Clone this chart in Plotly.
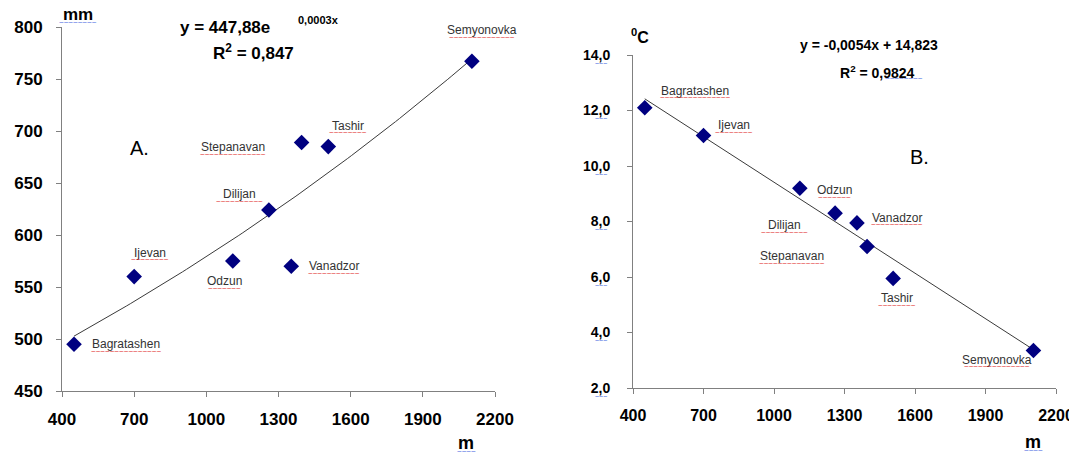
import numpy as np
import plotly.graph_objects as go

stations = ["Bagratashen", "Ijevan", "Odzun", "Dilijan", "Vanadzor", "Stepanavan", "Tashir", "Semyonovka"]
altitude = [450, 700, 1110, 1260, 1353, 1396, 1507, 2104]
precip = [495, 560, 575, 624, 570, 689, 685, 767]
temp = [12.1, 11.1, 9.2, 8.3, 7.95, 7.1, 5.95, 3.35]
x_ticks = [400, 700, 1000, 1300, 1600, 1900, 2200]
yA_ticks = [450, 500, 550, 600, 650, 700, 750, 800]
yB_ticks = [2, 4, 6, 8, 10, 12, 14]
yB_labels = ["2,0", "4,0", "6,0", "8,0", "10,0", "12,0", "14,0"]

# label offsets in pixels (x right, y up)
offA = {"Bagratashen": (52, 0), "Ijevan": (16, 24), "Odzun": (-8, -20), "Vanadzor": (43, 0),
        "Dilijan": (-29, 16), "Stepanavan": (-69, -5), "Tashir": (20, 21), "Semyonovka": (10, 31)}
offB = {"Bagratashen": (50, 17), "Ijevan": (30, 10), "Odzun": (35, -2), "Dilijan": (-51, -12),
        "Vanadzor": (40, 5), "Stepanavan": (-75, -10), "Tashir": (4, -20), "Semyonovka": (-36, -9)}

FONT = "Liberation Sans, Arial, sans-serif"
RED = "#e02020"
BLUE = "#4060e0"

# page body has an 8px margin; draw the figure in the remaining area
PAD = 8
W, H = 1077 - PAD, 457 - PAD


def fx(px):
    return (px - PAD) / W


def fy(py):
    return 1 - (py - PAD) / H


def squiggle(n):
    return "~" * n


x = np.array(altitude, dtype=float)
b, lna = np.polyfit(x, np.log(precip), 1)
xs = np.linspace(x.min(), x.max(), 100)
fitA = np.exp(lna) * np.exp(b * xs)
m, c = np.polyfit(x, temp, 1)
fitB = m * xs + c

fig = go.Figure()
fig.add_trace(go.Scatter(x=xs, y=fitA, mode="lines", line=dict(color="#3a3a3a", width=1),
                         xaxis="x", yaxis="y", showlegend=False, hoverinfo="skip"))
fig.add_trace(go.Scatter(x=altitude, y=precip, mode="markers", text=stations,
                         marker=dict(symbol="diamond", size=12, color="#000080"),
                         xaxis="x", yaxis="y", showlegend=False))
fig.add_trace(go.Scatter(x=xs, y=fitB, mode="lines", line=dict(color="#3a3a3a", width=1),
                         xaxis="x2", yaxis="y2", showlegend=False, hoverinfo="skip"))
fig.add_trace(go.Scatter(x=altitude, y=temp, mode="markers", text=stations,
                         marker=dict(symbol="diamond", size=12, color="#000080"),
                         xaxis="x2", yaxis="y2", showlegend=False))

ann = []
for xr, yr, vals, offs in (("x", "y", precip, offA), ("x2", "y2", temp, offB)):
    for s, xv, yv in zip(stations, altitude, vals):
        dx, dy = offs[s]
        ann.append(dict(x=xv, y=yv, xref=xr, yref=yr, showarrow=False, xshift=dx, yshift=dy,
                        xanchor="center", yanchor="middle",
                        text=s, font=dict(family=FONT, size=12, color="#333333")))
        ann.append(dict(x=xv, y=yv, xref=xr, yref=yr, showarrow=False, xshift=dx, yshift=dy - 7,
                        xanchor="center", yanchor="middle",
                        text=squiggle(int(len(s) * 1.45)), font=dict(family=FONT, size=8, color=RED)))


def paper(px, py):
    return dict(x=fx(px), y=fy(py), xref="paper", yref="paper", showarrow=False,
                xanchor="center", yanchor="middle")


ann += [
    dict(**paper(225, 28), text="<b>y = 447,88e</b>", font=dict(family=FONT, size=17, color="black")),
    dict(**paper(318, 20), text="<b>0,0003x</b>", font=dict(family=FONT, size=11, color="black")),
    dict(**paper(253, 52), text="<b>R<sup>2</sup> = 0,847</b>", font=dict(family=FONT, size=17, color="black")),
    dict(**paper(869, 45), text="<b>y = -0,0054x + 14,823</b>", font=dict(family=FONT, size=14, color="black")),
    dict(**paper(877, 72), text="<b>R<sup>2</sup> = 0,9824</b>", font=dict(family=FONT, size=14, color="black")),
    dict(**paper(904, 79), text=squiggle(8), font=dict(family=FONT, size=8, color=BLUE)),
    dict(**paper(139, 148), text="A.", font=dict(family=FONT, size=20, color="black")),
    dict(**paper(919, 157), text="B.", font=dict(family=FONT, size=20, color="black")),
    dict(**paper(78, 15), text="<b>mm</b>", font=dict(family=FONT, size=17, color="black")),
    dict(**paper(78, 23), text=squiggle(8), font=dict(family=FONT, size=8, color=BLUE)),
    dict(**paper(466, 443), text="<b>m</b>", font=dict(family=FONT, size=18, color="black")),
    dict(**paper(466, 451), text=squiggle(4), font=dict(family=FONT, size=8, color=BLUE)),
    dict(**paper(640, 36), text="<b><sup>0</sup>C</b>", font=dict(family=FONT, size=16, color="black")),
    dict(**paper(1033, 442), text="<b>m</b>", font=dict(family=FONT, size=18, color="black")),
    dict(**paper(1033, 450), text=squiggle(4), font=dict(family=FONT, size=8, color=BLUE)),
]
for tv in yB_ticks:
    ann.append(dict(x=fx(601), y=tv, xref="paper", yref="y2", showarrow=False, yshift=-8,
                    xanchor="center", yanchor="middle",
                    text=squiggle(3), font=dict(family=FONT, size=7, color=BLUE)))

axis_common = dict(showgrid=False, zeroline=False, showline=True, linecolor="#808080", linewidth=1,
                   ticks="outside", ticklen=5, tickcolor="#808080", mirror=False, automargin=False)

fig.update_layout(
    width=W, height=H, margin=dict(l=0, r=0, t=0, b=0, autoexpand=False),
    paper_bgcolor="white", plot_bgcolor="white",
    xaxis=dict(domain=[fx(62), fx(495)], range=[400, 2200], tickvals=x_ticks, ticklabelstandoff=8,
               tickfont=dict(family=FONT, size=17, color="black", weight="bold"), anchor="y", **axis_common),
    yaxis=dict(domain=[fy(391), fy(27)], range=[450, 800], tickvals=yA_ticks, ticklabelstandoff=10,
               tickfont=dict(family=FONT, size=17, color="black", weight="bold"), anchor="x", **axis_common),
    xaxis2=dict(domain=[fx(633), fx(1056)], range=[400, 2200], tickvals=x_ticks, ticklabelstandoff=8,
                tickfont=dict(family=FONT, size=16, color="black", weight="bold"), anchor="y2", **axis_common),
    yaxis2=dict(domain=[fy(388), fy(55)], range=[2, 14], tickvals=yB_ticks, ticktext=yB_labels,
                ticklabelstandoff=14,
                tickfont=dict(family=FONT, size=14, color="black", weight="bold"), anchor="x2", **axis_common),
    annotations=ann,
)

fig.write_html("out.html")
